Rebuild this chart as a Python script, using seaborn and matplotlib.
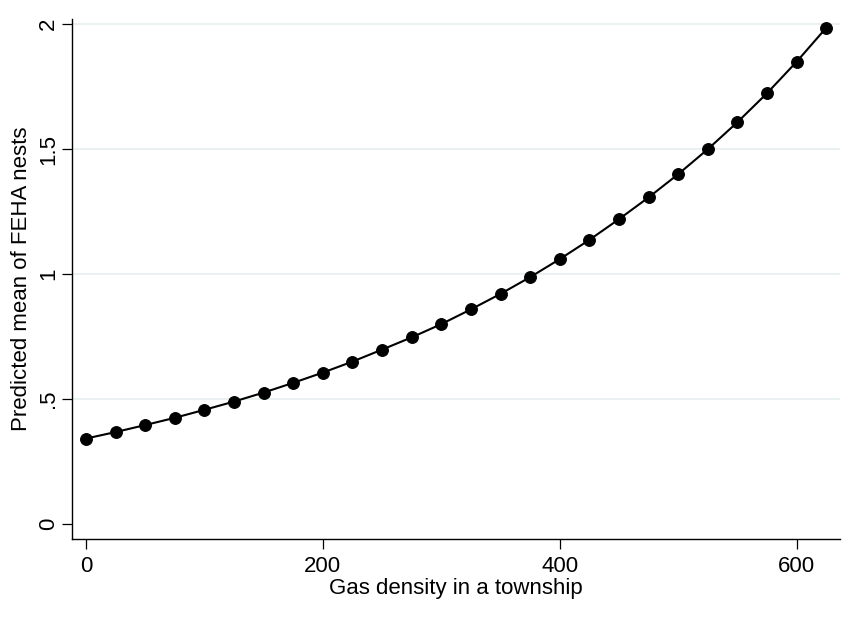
import numpy as np
import pandas as pd
import matplotlib
matplotlib.use('Agg')
import matplotlib.pyplot as plt
import seaborn as sns

# gas density values and predicted mean nests
gas_density = [0, 25, 50, 75, 100, 125, 150, 175, 200, 225, 250, 275, 300,
               325, 350, 375, 400, 425, 450, 475, 500, 525, 550, 575, 600, 625]
pred_mean = [0.342, 0.368, 0.396, 0.425, 0.457, 0.490, 0.526, 0.565, 0.606,
             0.650, 0.698, 0.747, 0.800, 0.859, 0.921, 0.988, 1.060, 1.137,
             1.220, 1.307, 1.400, 1.500, 1.608, 1.724, 1.850, 1.986]
x_ticks = [0, 200, 400, 600]
y_ticks = [0, 0.5, 1, 1.5, 2]
y_tick_labels = ['0', '.5', '1', '1.5', '2']

df = pd.DataFrame({'gas': gas_density, 'mean': pred_mean})

sns.set_style('white')
plt.rcParams['font.family'] = ['Liberation Sans', 'DejaVu Sans']
plt.rcParams['text.color'] = 'black'
plt.rcParams['axes.labelcolor'] = 'black'
plt.rcParams['xtick.color'] = 'black'
plt.rcParams['ytick.color'] = 'black'

fig = plt.figure(figsize=(8.51, 6.23), dpi=100)
W, H = 851, 623
ax = fig.add_axes([72 / W, (H - 539) / H, (840 - 72) / W, (539 - 19) / H])

# light gridlines (not at zero)
for yv in y_ticks[1:]:
    ax.axhline(yv, color='#e8f0f2', lw=1.3, zorder=0)

sns.lineplot(data=df, x='gas', y='mean', ax=ax, color='black', lw=1.5,
             marker='o', markersize=8.5, markeredgecolor='black', zorder=3)

ax.set_xlim(-11.8, 636.6)
ax.set_ylim(-0.06, 2.021)
ax.set_xticks(x_ticks)
ax.set_yticks(y_ticks)
ax.set_yticklabels(y_tick_labels, rotation=90, va='center')

ax.tick_params(axis='both', direction='out', length=7, width=0.9,
               labelsize=16, pad=5, bottom=True, left=True)
ax.tick_params(axis='y', pad=2.5)
for s in ['top', 'right']:
    ax.spines[s].set_visible(False)
for s in ['left', 'bottom']:
    ax.spines[s].set_color('black')
    ax.spines[s].set_linewidth(1.0)

ax.set_xlabel('Gas density in a township', fontsize=16, labelpad=1)
ax.set_ylabel('Predicted mean of FEHA nests', fontsize=16, labelpad=4)
ax.grid(False)

fig.savefig('out.png', dpi=100)
